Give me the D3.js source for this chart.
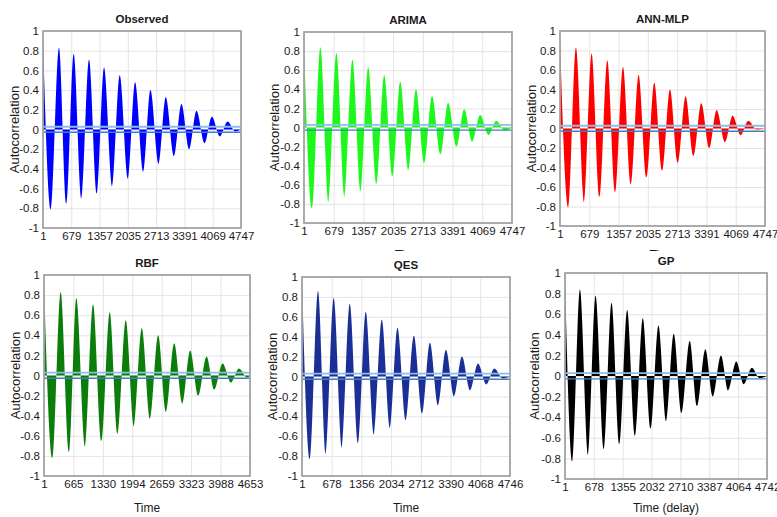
<!DOCTYPE html>
<html>
<head>
<meta charset="utf-8">
<title>Autocorrelation panels</title>
<style>
  body { margin: 0; background: #fff; }
  text { font-family: "Liberation Sans", Arial, sans-serif; fill: #1a1a1a; }
</style>
</head>
<body>
<svg id="chart" width="777" height="517"></svg>

<script src="https://d3js.org/d3.v7.min.js"></script>
<script type="text/javascript">

// peaks of each ACF (lag, value)
const obsLag  = [1,184,384,560,736,920,1104,1288,1464,1656,1840,2032,2208,2400,2576,2768,2944,3136,3320,3504,3680,3872,4048,4240,4424,4608,4747];
const obsAcf  = [0.92,-0.81,0.83,-0.75,0.77,-0.70,0.71,-0.65,0.63,-0.58,0.55,-0.50,0.48,-0.43,0.40,-0.35,0.33,-0.27,0.26,-0.20,0.19,-0.14,0.13,-0.07,0.08,-0.02,0.00];

const arimaLag = [1,183,374,557,740,923,1106,1289,1465,1656,1831,2022,2197,2381,2556,2747,2922,3113,3289,3479,3655,3838,4021,4212,4387,4578,4747];
const arimaAcf = [0.92,-0.84,0.84,-0.79,0.78,-0.73,0.71,-0.67,0.63,-0.59,0.55,-0.51,0.48,-0.45,0.40,-0.37,0.33,-0.28,0.26,-0.20,0.19,-0.15,0.13,-0.08,0.07,-0.03,0.00];

const annLag = [1,193,370,556,733,918,1096,1281,1459,1644,1821,2006,2184,2369,2547,2732,2909,3087,3272,3457,3627,3820,3997,4183,4360,4553,4747];
const annAcf = [0.91,-0.81,0.83,-0.76,0.77,-0.70,0.70,-0.65,0.63,-0.57,0.55,-0.50,0.47,-0.43,0.40,-0.35,0.33,-0.28,0.26,-0.20,0.19,-0.14,0.13,-0.07,0.08,-0.01,0.00];

const rbfLag = [1,189,377,566,731,927,1108,1297,1485,1659,1847,2028,2209,2390,2579,2752,2941,3122,3303,3483,3672,3845,4034,4222,4403,4592,4653];
const rbfAcf = [0.92,-0.82,0.83,-0.76,0.77,-0.71,0.71,-0.65,0.63,-0.58,0.55,-0.51,0.47,-0.43,0.40,-0.36,0.32,-0.28,0.25,-0.20,0.19,-0.14,0.12,-0.07,0.07,-0.02,0.00];

const qesLag = [1,175,366,541,724,907,1090,1273,1455,1638,1821,2004,2179,2370,2553,2736,2918,3101,3284,3467,3650,3833,4016,4206,4389,4580,4746];
const qesAcf = [0.96,-0.83,0.86,-0.78,0.79,-0.72,0.73,-0.67,0.65,-0.59,0.57,-0.52,0.49,-0.44,0.41,-0.37,0.34,-0.29,0.27,-0.20,0.20,-0.14,0.13,-0.08,0.08,-0.02,0.00];

const gpLag = [1,172,351,539,718,906,1093,1273,1460,1640,1827,2007,2194,2374,2553,2734,2928,3101,3295,3468,3662,3827,4021,4194,4389,4561,4742];
const gpAcf = [0.94,-0.83,0.84,-0.77,0.78,-0.71,0.71,-0.66,0.64,-0.58,0.56,-0.51,0.49,-0.44,0.41,-0.36,0.34,-0.29,0.26,-0.20,0.20,-0.14,0.14,-0.08,0.08,-0.02,0.00];

// tick labels along each x axis
const ticksA   = [1,679,1357,2035,2713,3391,4069,4747];
const ticksRbf = [1,665,1330,1994,2659,3323,3988,4653];
const ticksQes = [1,678,1356,2034,2712,3390,4068,4746];
const ticksGp  = [1,678,1355,2032,2710,3387,4064,4742];
const yTicks   = [-1,-0.8,-0.6,-0.4,-0.2,0,0.2,0.4,0.6,0.8,1];
const confBound = 0.028;

const panels = [
    {title: 'Observed', lag: obsLag, acf: obsAcf, ticks: ticksA, color: '#0000ff',
     box: [43, 241, 31, 228], ylx: 14, xlabel: null},
    {title: 'ARIMA', lag: arimaLag, acf: arimaAcf, ticks: ticksA, color: '#1cf81c',
     box: [304, 512, 32, 223], ylx: 274, xlabel: 'Time', clipLabel: true},
    {title: 'ANN-MLP', lag: annLag, acf: annAcf, ticks: ticksA, color: '#ff0000',
     box: [560, 765, 31, 226], ylx: 531, xlabel: 'Time', clipLabel: true},
    {title: 'RBF', lag: rbfLag, acf: rbfAcf, ticks: ticksRbf, color: '#0b7d0b',
     box: [44, 250, 275, 476], ylx: 15, xlabel: 'Time'},
    {title: 'QES', lag: qesLag, acf: qesAcf, ticks: ticksQes, color: '#1b2f96',
     box: [302, 510, 277, 476], ylx: 272, xlabel: 'Time'},
    {title: 'GP', lag: gpLag, acf: gpAcf, ticks: ticksGp, color: '#000000',
     box: [565, 767, 273, 479], ylx: 534, xlabel: 'Time (delay)'},
];

const fontFamily = '"Liberation Sans", Arial, sans-serif';
const svg = d3.select('#chart');

svg.append('defs').append('clipPath')
    .attr('id', 'topRowClip')
    .append('rect')
    .attr('x', 0).attr('y', 0).attr('width', 777).attr('height', 251);

panels.forEach(p => {
    const [l, r, t, b] = p.box;
    const x = d3.scaleLinear().domain([1, p.ticks[p.ticks.length - 1]]).range([l, r]);
    const y = d3.scaleLinear().domain([-1, 1]).range([b, t]);
    const g = svg.append('g').attr('class', 'panel');

    // grid
    g.append('g')
        .attr('transform', `translate(0,${b})`)
        .call(d3.axisBottom(x).tickValues(p.ticks).tickSize(-(b - t)).tickFormat(''))
        .call(a => a.select('.domain').remove())
        .call(a => a.selectAll('line').attr('stroke', '#e4e4e4'));
    g.append('g')
        .attr('transform', `translate(${l},0)`)
        .call(d3.axisLeft(y).tickValues(yTicks).tickSize(-(r - l)).tickFormat(''))
        .call(a => a.select('.domain').remove())
        .call(a => a.selectAll('line').attr('stroke', '#e4e4e4'));

    // acf area
    const data = p.lag.map((d, i) => ({lag: d, v: p.acf[i]}));
    g.append('path')
        .datum(data)
        .attr('fill', p.color)
        .attr('d', d3.area()
            .curve(d3.curveMonotoneX)
            .x(d => x(d.lag))
            .y0(y(0))
            .y1(d => y(d.v)));

    // confidence lines
    g.append('line')
        .attr('x1', l).attr('x2', r)
        .attr('y1', y(confBound)).attr('y2', y(confBound))
        .attr('stroke', '#8fbde6').attr('stroke-width', 1.8);
    g.append('line')
        .attr('x1', l).attr('x2', r)
        .attr('y1', y(-confBound)).attr('y2', y(-confBound))
        .attr('stroke', '#3f7fbf').attr('stroke-width', 1.4);

    // border
    g.append('rect')
        .attr('x', l).attr('y', t)
        .attr('width', r - l).attr('height', b - t)
        .attr('fill', 'none')
        .attr('stroke', '#a3a3a3')
        .attr('stroke-width', 1.8);

    // tick labels
    g.append('g')
        .attr('transform', `translate(0,${b + 4})`)
        .call(d3.axisBottom(x).tickValues(p.ticks).tickSize(0).tickPadding(0).tickFormat(d3.format('d')))
        .call(a => a.select('.domain').remove())
        .call(a => a.selectAll('text')
            .attr('font-size', 11.5)
            .attr('font-family', fontFamily)
            .attr('fill', '#1a1a1a'));
    g.append('g')
        .attr('transform', `translate(${l - 4},0)`)
        .call(d3.axisLeft(y).tickValues(yTicks).tickSize(0).tickPadding(0)
            .tickFormat(d => String(d).replace('\u2212', '-')))
        .call(a => a.select('.domain').remove())
        .call(a => a.selectAll('text')
            .attr('font-size', 11.5)
            .attr('font-family', fontFamily)
            .attr('fill', '#1a1a1a'));

    // title
    g.append('text')
        .attr('x', (l + r) / 2).attr('y', t - 8)
        .attr('text-anchor', 'middle')
        .attr('font-size', 11.5)
        .attr('font-weight', 'bold')
        .text(p.title);

    // y label
    g.append('text')
        .attr('transform', `translate(${p.ylx + 4.5},${(t + b) / 2}) rotate(-90)`)
        .attr('text-anchor', 'middle')
        .attr('font-size', 13)
        .attr('fill', '#333')
        .text('Autocorrelation');

    // x label (top row ones are hidden under the bottom row, only the top shows)
    if (p.xlabel) {
        const lab = g.append('text')
            .attr('x', (l + r) / 2)
            .attr('y', p.clipLabel ? 259 : 512)
            .attr('text-anchor', 'middle')
            .attr('font-size', 12)
            .attr('fill', '#333')
            .text(p.xlabel);
        if (p.clipLabel) lab.attr('clip-path', 'url(#topRowClip)');
    }
});

</script>
</body>
</html>
